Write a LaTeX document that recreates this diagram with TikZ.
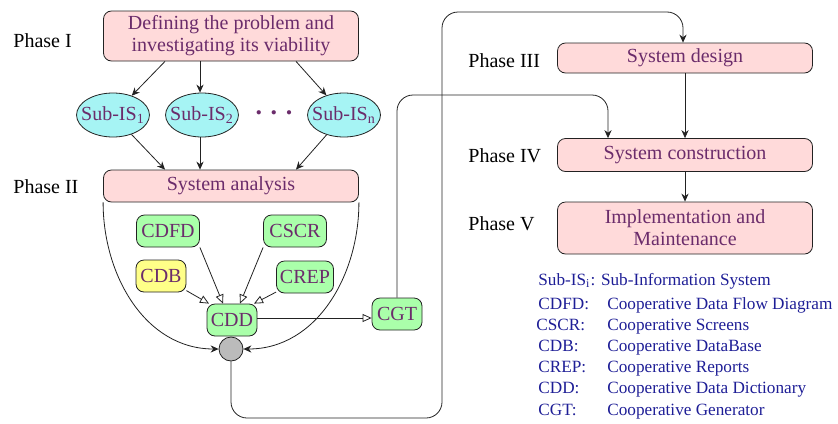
\documentclass[tikz,border=0pt]{standalone}
\usepackage{fontspec}
\setmainfont{Liberation Serif}
\usepackage{xcolor}
\usepackage{tikz}
\usetikzlibrary{arrows.meta,positioning,shapes.geometric}
\definecolor{cPhase}{HTML}{FFDADA}
\definecolor{cSub}{HTML}{A6F4F4}
\definecolor{cCoop}{HTML}{AAFFAA}
\definecolor{cBase}{HTML}{FFFF88}
\definecolor{cHub}{HTML}{BBBBBB}
\definecolor{cText}{HTML}{6B2C6B}
\definecolor{cKey}{HTML}{1E1E96}
\definecolor{cInk}{HTML}{222222}
\tikzset{
  box/.style     = {draw=cInk, rounded corners=4pt, align=center, text=cText,
                    inner sep=1pt, font=\fontsize{10}{11}\selectfont},
  phasebox/.style = {box, fill=cPhase, minimum width=127.5pt},
  coop/.style    = {box, fill=cCoop, minimum height=16pt, minimum width=25pt},
  subis/.style   = {ellipse, draw=cInk, fill=cSub, text=cText, inner xsep=-3pt,
                    inner ysep=0pt, minimum width=36pt, minimum height=22pt,
                    font=\fontsize{10}{11}\selectfont},
  hub/.style     = {circle, draw=cInk, fill=cHub, minimum size=12pt, inner sep=0pt},
  phase/.style   = {anchor=base west, inner sep=0pt, font=\fontsize{10}{11}\selectfont},
  key/.style     = {anchor=base west, inner sep=0pt, text=cKey,
                    font=\fontsize{8.6}{10}\selectfont},
  flow/.style    = {-{Stealth[length=4pt,width=3.6pt]}, draw=cInk, thin},
  feed/.style    = {-{Triangle[open,fill=white,length=4.5pt,width=4pt]}, draw=cInk, thin},
}

\begin{document}
\begin{tikzpicture}[x=0.5pt, y=-0.5pt]
  \useasboundingbox (0,0) rectangle (838,423);
  % phase I and the sub-systems
  \node[phasebox, minimum height=25pt] (define) at (231,36)
    {Defining the problem and\\ investigating its viability};
  \node[subis] (sub1) at (113,115) {Sub-IS\textsubscript{1}};
  \node[subis] (sub2) at (202,115) {Sub-IS\textsubscript{2}};
  \node[text=cText, font=\fontsize{13}{13}\bfseries] (dots) at (274,113) {.\,\,.\,\,.};
  \node[subis] (subn) at (344,115) {Sub-IS\textsubscript{n}};
  \node[phasebox, minimum height=16pt] (analysis) at (231,186) {System analysis};
  % cooperative components
  \node[coop, minimum width=31.5pt] (cdfd) at (168,231) {CDFD};
  \node[coop, minimum width=31.5pt] (cscr) at (295,231) {CSCR};
  \node[coop, fill=cBase] (cdb) at (161,276) {CDB};
  \node[coop, minimum width=28.5pt] (crep) at (305,277) {CREP};
  \node[coop] (cdd) at (232,320) {CDD};
  \node[coop] (cgt) at (397,314) {CGT};
  \node[hub] (join) at (231,349) {};
  % phases III to V
  \node[phasebox, minimum height=15pt] (design) at (685,58) {System design};
  \node[phasebox, minimum height=16.5pt] (build) at (685,155) {System construction};
  \node[phasebox, minimum height=26pt] (deploy) at (685,228)
    {Implementation and\\ Maintenance};
  % phase labels
  \node[phase] at (13,47)  {Phase I};
  \node[phase] at (13,193) {Phase II};
  \node[phase] at (468,67)  {Phase III};
  \node[phase] at (468,162) {Phase IV};
  \node[phase] at (468,230) {Phase V};
  % flows
  \draw[flow] (define.south -| 165,0) -- (sub1);
  \draw[flow] (define.south -| 200,0) -- (sub2.north -| 200,0);
  \draw[flow] (define.south -| 296,0) -- (subn);
  \draw[flow] (sub1) -- (analysis.north -| 165,0);
  \draw[flow] (sub2.south -| 200,0) -- (analysis.north -| 200,0);
  \draw[flow] (subn) -- (analysis.north -| 296,0);
  \draw[feed] (cdb) -- (cdd.north -| 209,0);
  \draw[feed] (cdfd.south east) -- (cdd.north -| 223,0);
  \draw[feed] (cscr.south west) -- (cdd.north -| 240,0);
  \draw[feed] (crep) -- (cdd.north -| 254,0);
  \draw[feed] (cdd.east |- 0,318) -- (cgt.west |- 0,318);
  \draw[flow] (analysis.south west) to[out=-90, in=180] (join.west);
  \draw[flow] (analysis.south east) to[out=-90, in=0] (join.east);
  \draw[flow, rounded corners=8pt] (join.south) -- (231,418) -- (442,418)
    -- (442,12) -- (683,12) -- (design.north -| 683,0);
  \draw[flow, rounded corners=8pt] (cgt.north) -- (397,95) -- (608,95)
    -- (build.north -| 608,0);
  \draw[flow] (design) -- (build);
  \draw[flow] (build) -- (deploy);
  % legend
  \node[key] at (538,285) {Sub-IS\textsubscript{i}: Sub-Information System};
  \node[key] at (538,309) {CDFD:};
  \node[key] at (607,309) {Cooperative Data Flow Diagram};
  \node[key] at (536,330) {CSCR:};
  \node[key] at (607,330) {Cooperative Screens};
  \node[key] at (538,351) {CDB:};
  \node[key] at (607,351) {Cooperative DataBase};
  \node[key] at (538,372) {CREP:};
  \node[key] at (607,372) {Cooperative Reports};
  \node[key] at (538,393) {CDD:};
  \node[key] at (607,393) {Cooperative Data Dictionary};
  \node[key] at (538,415) {CGT:};
  \node[key] at (607,415) {Cooperative Generator};
\end{tikzpicture}
\end{document}
